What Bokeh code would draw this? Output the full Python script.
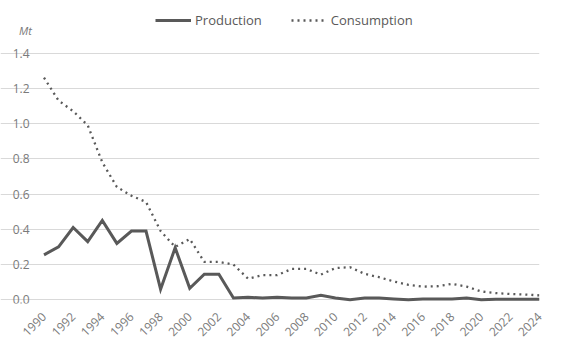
import math
from bokeh.plotting import figure
from bokeh.models import Range1d, Legend, LegendItem, Label, FixedTicker, ColumnDataSource
from bokeh.core.properties import value
from bokeh.embed import file_html
from bokeh.resources import INLINE

years = list(range(1990, 2025))
production = [0.255, 0.30, 0.41, 0.33, 0.45, 0.32, 0.39, 0.39, 0.06, 0.295,
              0.065, 0.145, 0.145, 0.01, 0.015, 0.01, 0.015, 0.01, 0.01, 0.025,
              0.01, 0.0, 0.01, 0.01, 0.005, 0.0, 0.005, 0.005, 0.005, 0.01,
              0.0, 0.003, 0.003, 0.003, 0.003]
consumption = [1.26, 1.13, 1.07, 0.99, 0.78, 0.64, 0.59, 0.555, 0.39, 0.30,
               0.345, 0.215, 0.215, 0.20, 0.12, 0.14, 0.14, 0.175, 0.175, 0.143,
               0.18, 0.185, 0.147, 0.128, 0.104, 0.085, 0.075, 0.077, 0.09, 0.075,
               0.047, 0.038, 0.033, 0.03, 0.025]
y_ticks = [0.0, 0.2, 0.4, 0.6, 0.8, 1.0, 1.2, 1.4]
x_ticks = list(range(1990, 2025, 2))
series_names = ["Production", "Consumption"]
unit_label = "Mt"

FONT = "Open Sans"
TEXT = "#595959"
TICK = "#7a7a7a"
GRID = "#d9d9d9"

X0, X1 = years[0], years[-1]
LEFT_PX, RIGHT_PX = 43.5, 539.0
PX_PER_YEAR = (RIGHT_PX - LEFT_PX) / (X1 - X0)
PX_PER_UNIT = (299.3 - 52.5) / 1.4

src = ColumnDataSource(dict(year=years, prod=production, cons=consumption))

p = figure(width=564, height=351, output_backend="svg", toolbar_location=None,
           y_axis_location=None,
           x_range=Range1d(X0 - LEFT_PX / PX_PER_YEAR, X1),
           y_range=Range1d(-3.7 / PX_PER_UNIT, 299.3 / PX_PER_UNIT),
           min_border_left=0, min_border_right=25, min_border_top=0, min_border_bottom=48)
p.outline_line_color = None
p.background_fill_color = "white"
p.border_fill_color = "white"

p.xgrid.grid_line_color = None
p.ygrid.grid_line_color = GRID
p.ygrid.grid_line_width = 1
p.ygrid.ticker = FixedTicker(ticks=y_ticks)
p.ygrid.bounds = (X0, X1)

r1 = p.line("year", "prod", source=src, line_color=TEXT, line_width=3, line_join="miter")
r2 = p.line("year", "cons", source=src, line_color=TEXT, line_width=2.3, line_dash="2 4")

# y tick labels
ysrc = ColumnDataSource(dict(x=[X0 - 14.5 / PX_PER_YEAR] * len(y_ticks), y=y_ticks,
                             t=[f"{v:.1f}" for v in y_ticks]))
p.text("x", "y", text="t", source=ysrc, text_align="right", text_baseline="middle",
       text_font=value(FONT), text_font_size="12px", text_color=TICK)

p.xaxis.ticker = FixedTicker(ticks=x_ticks)
p.xaxis.major_label_orientation = math.pi / 4
ax = p.xaxis[0]
ax.axis_line_color = None
ax.major_tick_line_color = None
ax.minor_tick_line_color = None
ax.major_label_text_font = FONT
ax.major_label_text_font_size = "12px"
ax.major_label_text_color = TICK
ax.major_label_standoff = 5

mt = Label(x=X0 - 18.5 / PX_PER_YEAR, y=(299.3 - 30) / PX_PER_UNIT, text=unit_label,
           text_font=FONT, text_font_size="11px", text_font_style="italic",
           text_color=TICK, text_align="center", text_baseline="middle")
p.add_layout(mt)

legend = Legend(items=[LegendItem(label=series_names[0], renderers=[r1]),
                       LegendItem(label=series_names[1], renderers=[r2])],
                orientation="horizontal", location=(155, 273))
legend.padding = 0
legend.margin = 0
legend.spacing = 29
legend.glyph_width = 36
legend.label_standoff = 4
legend.border_line_alpha = 0
legend.background_fill_alpha = 0
legend.label_text_font = FONT
legend.label_text_font_size = "13px"
legend.label_text_color = TEXT
p.add_layout(legend, "center")

open("out.html", "w").write(file_html(p, INLINE))
